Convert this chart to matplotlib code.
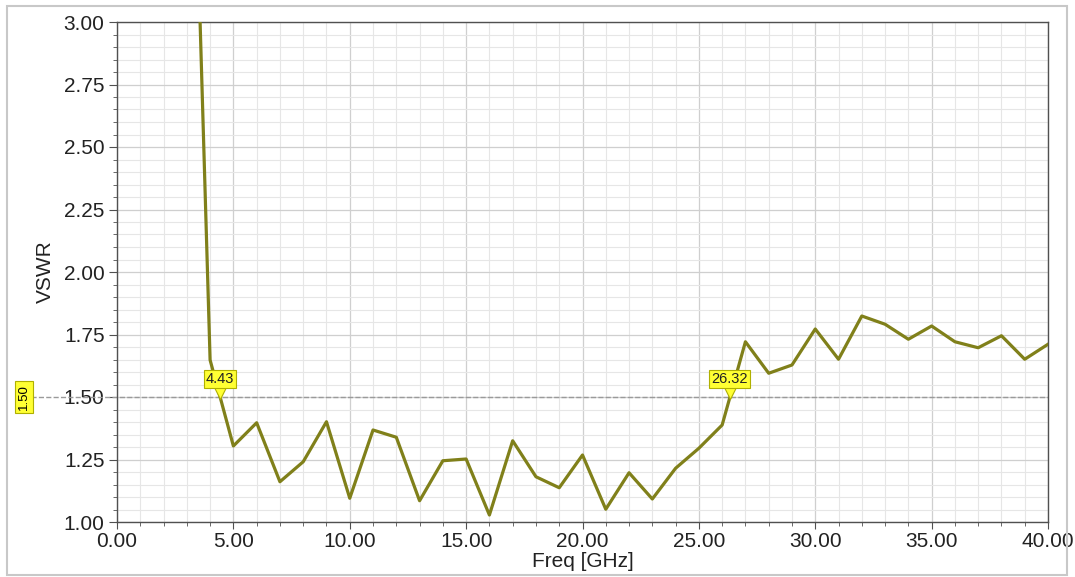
import numpy as np
import matplotlib.pyplot as plt
from matplotlib.ticker import MultipleLocator, FormatStrFormatter
from matplotlib.patches import Rectangle
import matplotlib.transforms as mtransforms

plt.rcParams['font.family'] = ['Liberation Sans', 'DejaVu Sans']

# measured VSWR trace
freq = [3.5, 4, 5, 6, 7, 8, 9, 10, 11, 12, 13, 14, 15, 16, 17, 18, 19, 20,
        21, 22, 23, 24, 25, 26, 27, 28, 29, 30, 31, 32, 33, 34, 35, 36, 37,
        38, 39, 40]
vswr = [3.22, 1.648, 1.304, 1.397, 1.161, 1.241, 1.401, 1.095, 1.368, 1.339,
        1.085, 1.245, 1.252, 1.028, 1.325, 1.181, 1.137, 1.268, 1.051, 1.197,
        1.092, 1.215, 1.295, 1.388, 1.721, 1.595, 1.628, 1.772, 1.651, 1.824,
        1.791, 1.731, 1.784, 1.721, 1.697, 1.745, 1.651, 1.711]

limit = 1.50
marker_freqs = [4.43, 26.32]

fig = plt.figure(figsize=(10.75, 5.77), dpi=100)
ax = fig.add_axes([117 / 1075, 1 - 522 / 577, (1048 - 117) / 1075, (522 - 22) / 577])

# outer frame
fig.patches.append(Rectangle((7 / 1075, 2 / 577), 1060 / 1075, 569 / 577,
                             transform=fig.transFigure, fill=False,
                             ec='#c8c8c8', lw=1.5))

ax.plot(freq, vswr, color='#80801a', lw=2.3, zorder=3, clip_on=True)

ax.set_xlim(0, 40)
ax.set_ylim(1.0, 3.0)
ax.xaxis.set_major_locator(MultipleLocator(5))
ax.xaxis.set_minor_locator(MultipleLocator(1))
ax.yaxis.set_major_locator(MultipleLocator(0.25))
ax.yaxis.set_minor_locator(MultipleLocator(0.05))
ax.xaxis.set_major_formatter(FormatStrFormatter('%.2f'))
ax.yaxis.set_major_formatter(FormatStrFormatter('%.2f'))

ax.grid(which='major', color='#cfcfcf', lw=0.9)
ax.grid(which='minor', color='#e6e6e6', lw=0.8)
ax.set_axisbelow(True)

for s in ax.spines.values():
    s.set_color('#505050')
    s.set_linewidth(1.0)

ax.tick_params(axis='both', which='major', labelsize=15, colors='#505050',
               labelcolor='#222222', direction='out')
ax.tick_params(axis='y', which='major', length=6, pad=3)
ax.tick_params(axis='y', which='minor', length=3, color='#505050')
ax.tick_params(axis='x', which='major', length=5, pad=2)
ax.tick_params(axis='x', which='minor', length=3, color='#505050')

ax.set_xlabel('Freq [GHz]', fontsize=15, color='#222222', labelpad=1)
ax.set_ylabel('VSWR', fontsize=15, color='#222222', labelpad=6)

# limit line, extended left of the axes
ax.axhline(limit, xmin=-0.092, xmax=1, color='#9a9a9a', ls='--', lw=1.0,
           clip_on=False, zorder=2)
ax.text(-0.1, limit, '%.2f' % limit, transform=ax.get_yaxis_transform(),
        rotation=90, ha='center', va='center', fontsize=9.5,
        bbox=dict(boxstyle='square,pad=0.2', fc='#ffff33', ec='#b0b000', lw=0.8))

# crossing markers
tri_tf = mtransforms.offset_copy(ax.transData, fig=fig, x=0, y=5, units='dots')
for mf in marker_freqs:
    ax.plot([mf], [limit], marker='v', ms=10, mfc='#ffff33', mec='#b0b000',
            mew=0.8, transform=tri_tf, zorder=5, clip_on=False)
    ax.annotate('%.2f' % mf, xy=(mf, limit), xytext=(0, 13),
                textcoords='offset points', ha='center', va='center',
                fontsize=10.5, color='#222222', zorder=6,
                bbox=dict(boxstyle='square,pad=0.15', fc='#ffff33',
                          ec='#b0b000', lw=0.8))

fig.savefig('out.png', dpi=100)
